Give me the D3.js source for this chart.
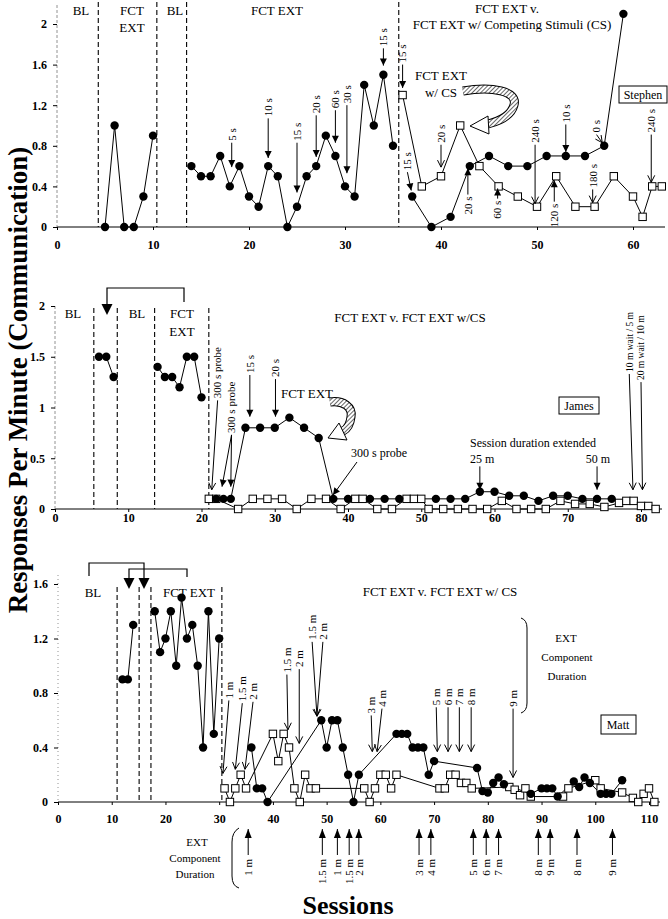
<!DOCTYPE html>
<html><head><meta charset="utf-8">
<script src="https://cdn.jsdelivr.net/npm/d3@7"></script>
<style>
body{margin:0;background:#fff}
svg{display:block}
text{font-family:"Liberation Serif","Times New Roman",serif;fill:#000}
</style>
</head><body>
<svg id="chart" width="668" height="919"></svg>
<script>
// ---------------- DATA ----------------
// Stephen
const stephenXTicks = [0,10,20,30,40,50,60];
const stephenYTicks = [0,0.4,0.8,1.2,1.6,2];
const stephenPhaseLines = [4.3,10.4,13.5,35.6];
const stephenFctExtA = [[5,0],[6,1.0],[7,0],[8,0],[9,0.3],[10,0.9]];
const stephenFctExtB = [[14,0.6],[15,0.5],[16,0.5],[17,0.7],[18,0.4],[19,0.6],[20,0.3],[21,0.2],[22,0.6],[23,0.5],[24,0],[25,0.2],[26,0.5],[27,0.6],[28,0.9],[29,0.7],[30,0.4],[31,0.3],[32,1.4],[33,1.0],[34,1.5],[35,0.8]];
const stephenFctExtC = [[37,0.3],[39,0],[41,0.1],[43,0.6],[45,0.7],[47,0.6],[49,0.6],[51,0.7],[53,0.7],[55,0.7],[57,0.8],[59,2.1]];
const stephenFctExtCS = [[36,1.3],[38,0.4],[40,0.5],[42,1.0],[44,0.6],[46,0.4],[48,0.3],[50,0.2],[52,0.5],[54,0.2],[56,0.2],[58,0.5],[60,0.3],[61,0.1],[62,0.4],[63,0.4]];
// [label, textSession, textBottomValue, tipSession, tipValue, open]
const stephenDownNotes = [["5 s",18.2,0.85,18.2,0.59,0],["10 s",22,1.09,22,0.68,0],["15 s",25,0.85,25,0.34,0],["20 s",27,1.12,27,0.69,0],["60 s",29,1.17,29,0.83,0],["30 s",30.2,1.22,30.2,0.53,0],["15 s",34,1.78,34,1.59,0],["15 s",36,1.62,36,1.37,0],["15 s",36.5,0.56,36.9,0.36,0],["20 s",40,0.83,40,0.59,1],["240 s",49.8,0.83,49.8,0.23,1],["10 s",53,1.03,53,0.74,0],["180 s",55.8,0.39,55.8,0.24,1],["0 s",56.2,0.93,56.8,0.83,1],["240 s",61.9,0.93,61.9,0.44,1]];
// [label, session, textTopValue, tipValue]
const stephenUpNotes = [["20 s",42.8,0.30,0.58],["60 s",45.9,0.26,0.38],["120 s",51.8,0.23,0.46]];

// James
const jamesXTicks = [0,10,20,30,40,50,60,70,80];
const jamesYTicks = [0,0.5,1,1.5,2];
const jamesPhaseLines = [5.3,8.5,13.6,21];
const jamesFctExtA = [[6,1.5],[7,1.5],[8,1.3]];
const jamesFctExtB = [[14,1.4],[15,1.3],[16,1.3],[17,1.2],[18,1.5],[19,1.5],[20,1.1]];
const jamesFctExtC = [[22,0.1],[23,0.1],[24,0.1],[26,0.8],[28,0.8],[30,0.8],[32,0.9],[34,0.8],[36,0.7],[38,0.1],[40,0.1],[43,0.1],[45,0.1],[47,0.1],[52,0.1],[54,0.1],[56,0.1],[58,0.17],[60,0.17],[62,0.13],[64,0.13],[66,0.08],[68,0.13],[70,0.13],[72,0.1],[74,0.1],[76,0.1]];
const jamesFctExtCS = [[21,0.1],[22,0.1],[25,0],[27,0.1],[29,0.1],[31,0.1],[33,0],[35,0.1],[37,0.1],[39,0],[41,0.1],[42,0.1],[44,0],[46,0],[48,0.1],[49,0.1],[50,0.1],[51,0],[53,0],[55,0],[57,0],[59,0],[61,0.08],[63,0],[65,0],[67,0],[69,0.08],[71,0.05],[73,0.05],[75,0.02],[77,0.06],[78,0.08],[79,0.08],[80,0.03],[81,0.03],[82,0]];
const jamesDownNotes = [["300 s probe",22.2,1.09,21.4,0.19,1],["300 s probe",24.1,0.75,22.8,0.22,0],["",24.1,0.75,24,0.22,0],["15 s",26.6,1.34,26.6,0.91,0],["20 s",30.1,1.30,30.1,0.91,0],["10 m wait / 5 m",78.4,1.35,78.9,0.19,1,9.5],["20 m wait / 10 m",80,1.27,80.2,0.19,1,9.5]];
// [session, fromValue, toValue]
const jamesDurationArrows = [[58,0.42,0.19],[74,0.42,0.19]];

// Matt
const mattXTicks = [0,10,20,30,40,50,60,70,80,90,100,110];
const mattYTicks = [0,0.4,0.8,1.2,1.6];
const mattPhaseLines = [11,15.1,17.3,30.5];
const mattBaseline = [[12,0.9],[13,0.9],[14,1.3]];
const mattFctExtA = [[18,1.4],[19,1.1],[20,1.2],[21,1.4],[22,1.0],[23,1.5],[24,1.2],[25,1.3],[26,1.0],[27,0.4],[28,1.4],[29,0.5],[30,1.2]];
const mattFctExtB = [[36,0.4],[37,0.1],[38,0.1],[39,0],[49,0.6],[50,0.4],[51,0.6],[52,0.6],[53,0.4],[54,0.2],[55,0],[56,0.2],[63,0.5],[64,0.5],[65,0.5],[66,0.4],[67,0.4],[68,0.4],[69,0.2],[70,0.3],[78,0.25],[79,0.08],[80,0.07],[81,0.14],[82,0.18],[83,0.13],[88,0.06],[90,0.1],[91,0.1],[92,0.1],[93,0.04],[96,0.15],[97,0.11],[98,0.18],[99,0.14],[101,0.06],[102,0.06],[103,0.06],[105,0.16]];
const mattFctExtCS = [[31,0.1],[32,0],[33,0.1],[34,0.2],[35,0.1],[40,0.5],[41,0.3],[42,0.5],[43,0.4],[44,0.1],[45,0],[46,0.2],[47,0.1],[48,0.1],[57,0.1],[58,0],[59,0.1],[60,0.2],[61,0.2],[62,0.1],[63,0.2],[71,0.1],[72,0.1],[73,0.2],[74,0.2],[75,0.14],[76,0.14],[77,0.1],[84,0.11],[85,0.09],[86,0.05],[87,0.1],[88,0.04],[94,0.04],[95,0.1],[100,0.16],[101,0.1],[105,0.07],[107,0.03],[108,0],[109,0.06],[110,0.1],[111,0]];
const mattDownNotes = [["1 m",31.8,0.76,30.7,0.21,1],["1.5 m",34.3,0.74,33,0.24,1],["2 m",36.3,0.75,34.8,0.24,1],["1.5 m",42.6,0.95,42.8,0.53,1],["2 m",44.9,0.99,44.9,0.43,1],["1.5 m",47.3,1.19,48.2,0.63,1],["2 m",49.3,1.19,48.2,0.63,1],["3 m",58.3,0.65,58.5,0.37,1],["4 m",60.3,0.70,59.4,0.37,1],["5 m",70.4,0.71,70.6,0.37,1],["6 m",72.6,0.71,72.6,0.37,1],["7 m",74.7,0.71,74.7,0.37,1],["8 m",76.9,0.71,76.9,0.37,1],["9 m",84.7,0.70,84.7,0.18,1]];
const mattExtDurations = [[35.4,"1 m"],[49.2,"1.5 m"],[52,"1 m"],[54.2,"1.5 m"],[56,"2 m"],[67.2,"3 m"],[69.4,"4 m"],[77.3,"5 m"],[79.7,"6 m"],[82,"7 m"],[89.4,"8 m"],[91.6,"9 m"],[96.6,"8 m"],[103.2,"9 m"]];

// ---------------- DRAWING ----------------
const SERIF = '"Liberation Serif","Times New Roman",serif';
const svg = d3.select("#chart");
const defs = svg.append("defs");
const pat = defs.append("pattern").attr("id","hatch").attr("patternUnits","userSpaceOnUse")
  .attr("width",3).attr("height",3).attr("patternTransform","rotate(45)");
pat.append("rect").attr("width",3).attr("height",3).attr("fill","#fff");
pat.append("line").attr("x1",0).attr("y1",0).attr("x2",0).attr("y2",3).attr("stroke","#000").attr("stroke-width",1.2);

function arrowHead(g, x1,y1,x2,y2, open, L, W){
  L = L||7; W = W||3.5;
  const a = Math.atan2(y2-y1, x2-x1);
  const bx = x2 - L*Math.cos(a), by = y2 - L*Math.sin(a);
  const p1 = [bx + W*Math.sin(a), by - W*Math.cos(a)], p2 = [bx - W*Math.sin(a), by + W*Math.cos(a)];
  if (open) {
    g.append("polyline").attr("points",[p1,[x2,y2],p2].map(p=>p.join(",")).join(" "))
      .attr("fill","none").attr("stroke","#000").attr("stroke-width",1);
  } else {
    g.append("polygon").attr("points",[p1,[x2,y2],p2].map(p=>p.join(",")).join(" ")).attr("fill","#000");
  }
}
function arrow(g,x1,y1,x2,y2,open,L,W){
  g.append("line").attr("x1",x1).attr("y1",y1).attr("x2",x2).attr("y2",y2).attr("stroke","#000").attr("stroke-width",1);
  arrowHead(g,x1,y1,x2,y2,open,L,W);
}
function vLabel(g,x,y,txt,size,anchor){
  g.append("text").attr("transform",`translate(${x},${y}) rotate(-90)`).attr("dy","0.35em")
   .attr("text-anchor",anchor||"start").attr("font-size",size||11).text(txt);
}
function hText(g,x,y,txt,size,anchor,weight){
  return g.append("text").attr("x",x).attr("y",y).attr("text-anchor",anchor||"middle")
    .attr("font-size",size||12).attr("font-weight",weight||"normal").text(txt);
}
function blockArrow(g,d,tri){
  g.append("path").attr("d",d).attr("fill","none").attr("stroke","#000").attr("stroke-width",9);
  g.append("path").attr("d",d).attr("fill","none").attr("stroke","url(#hatch)").attr("stroke-width",7);
  g.append("polygon").attr("points",tri.map(p=>p.join(",")).join(" ")).attr("fill","#fff").attr("stroke","#000").attr("stroke-width",1);
}

function panel(cfg){
  const g = svg.append("g");
  const x = cfg.x, y = cfg.y;
  const y0 = y(0), x0 = x(0);
  g.selectAll(".ph").data(cfg.phases).enter().append("line")
    .attr("x1",d=>x(d)).attr("x2",d=>x(d)).attr("y1",cfg.phaseTop).attr("y2",y0)
    .attr("stroke","#000").attr("stroke-width",1.1).attr("stroke-dasharray","5,3");
  g.append("line").attr("x1",x0).attr("x2",cfg.xEnd).attr("y1",y0).attr("y2",y0).attr("stroke","#000").attr("stroke-width",1);
  g.append("line").attr("x1",x0).attr("x2",x0).attr("y1",cfg.yTopPx).attr("y2",y0).attr("stroke","#777").attr("stroke-width",0.8).attr("stroke-dasharray",cfg.yDash||null);
  const gx = g.append("g").attr("transform",`translate(0,${y0})`)
    .call(d3.axisBottom(x).tickValues(cfg.xt).tickSize(3).tickSizeOuter(0).tickPadding(cfg.pad).tickFormat(d3.format("d")));
  gx.select(".domain").remove();
  gx.attr("font-family",SERIF).attr("font-size",12).attr("font-weight","bold");
  const gy = g.append("g").attr("transform",`translate(${x0},0)`)
    .call(d3.axisLeft(y).tickValues(cfg.yt).tickSize(4).tickSizeOuter(0).tickPadding(6).tickFormat(d=>String(d)));
  gy.select(".domain").remove();
  gy.attr("font-family",SERIF).attr("font-size",12).attr("font-weight","bold");
  const line = d3.line().x(d=>x(d[0])).y(d=>y(d[1]));
  cfg.lines.forEach(s=>{
    g.append("path").datum(s).attr("d",line).attr("fill","none").attr("stroke","#000").attr("stroke-width",1);
  });
  cfg.squares.forEach(s=>{
    g.selectAll(null).data(s).enter().append("rect")
      .attr("x",d=>x(d[0])-3.7).attr("y",d=>y(d[1])-3.7).attr("width",7.4).attr("height",7.4)
      .attr("fill","#fff").attr("stroke","#000").attr("stroke-width",1);
  });
  cfg.circles.forEach(s=>{
    g.selectAll(null).data(s).enter().append("circle")
      .attr("cx",d=>x(d[0])).attr("cy",d=>y(d[1])).attr("r",4.2).attr("fill","#000");
  });
  (cfg.down||[]).forEach(n=>{
    const tx = x(n[1]), ty = y(n[2]);
    if (n[0]) vLabel(g, tx, ty, n[0], n[6]||cfg.noteSize);
    arrow(g, tx, ty+2, x(n[3]), y(n[4]), n[5]);
  });
  (cfg.up||[]).forEach(n=>{
    const tx = x(n[1]), ty = y(n[2]);
    vLabel(g, tx, ty, n[0], 11, "end");
    arrow(g, tx, ty-2, tx, y(n[3]), 0);
  });
  return g;
}

// Stephen panel
const xS = d3.scaleLinear().domain([0,60]).range([57,633]);
const yS = d3.scaleLinear().domain([0,2]).range([227,24]);
const gS = panel({x:xS,y:yS,xt:stephenXTicks,yt:stephenYTicks,phases:stephenPhaseLines,phaseTop:2,xEnd:665,yTopPx:5,pad:10.5,yDash:"3,2",
  lines:[stephenFctExtA,stephenFctExtB,stephenFctExtC,stephenFctExtCS],
  circles:[stephenFctExtA,stephenFctExtB,stephenFctExtC],squares:[stephenFctExtCS],
  down:stephenDownNotes, up:stephenUpNotes, noteSize:11});
hText(gS,81,15,"BL",13); hText(gS,132,15,"FCT",13); hText(gS,132,32,"EXT",13); hText(gS,175,15,"BL",13);
hText(gS,277,15,"FCT EXT",13);
hText(gS,507,13,"FCT EXT v.",13);
hText(gS,512,29,"FCT EXT w/ Competing Stimuli (CS)",13);
hText(gS,441,80,"FCT EXT",13); hText(gS,441,97,"w/ CS",13);
blockArrow(gS,"M463 91 C 492 86, 518 91, 514 105 C 511 116, 500 121, 488 124",[[470,126],[488,116],[489,134]]);
gS.append("rect").attr("x",619).attr("y",86).attr("width",48).attr("height",17).attr("fill","#fff").attr("stroke","#000");
hText(gS,643,99,"Stephen",12);

// James panel
const xJ = d3.scaleLinear().domain([0,80]).range([55,641]);
const yJ = d3.scaleLinear().domain([0,2]).range([509,306]);
const gJ = panel({x:xJ,y:yJ,xt:jamesXTicks,yt:jamesYTicks,phases:jamesPhaseLines,phaseTop:308,xEnd:662,yTopPx:306,pad:1.5,yDash:"3,2",
  lines:[jamesFctExtA,jamesFctExtB,jamesFctExtC,jamesFctExtCS],
  circles:[jamesFctExtA,jamesFctExtB,jamesFctExtC],squares:[jamesFctExtCS],
  down:jamesDownNotes, noteSize:11});
hText(gJ,73,318,"BL",13); hText(gJ,137,318,"BL",13); hText(gJ,182,318,"FCT",13); hText(gJ,182,336,"EXT",13);
gJ.append("path").attr("d","M184 302 V288 H107 V304").attr("fill","none").attr("stroke","#000").attr("stroke-width",1.2);
arrowHead(gJ,107,300,107,315,0,11,5.5);
hText(gJ,410,322,"FCT EXT v. FCT EXT w/CS",13);
hText(gJ,307,398,"FCT EXT",13);
blockArrow(gJ,"M330 402 C 343 400, 353 407, 351 417 C 350 425, 347 429, 343 431",[[328,438],[339,423],[347,440]]);
hText(gJ,379,457,"300 s probe",12);
arrow(gJ,357,462,333,495,0);
hText(gJ,470,447,"Session duration extended",12,"start");
hText(gJ,470,463,"25 m",12,"start");
hText(gJ,610,463,"50 m",12,"end");
jamesDurationArrows.forEach(a=>arrow(gJ,xJ(a[0]),yJ(a[1]),xJ(a[0]),yJ(a[2]),0));
gJ.append("rect").attr("x",559).attr("y",397).attr("width",40).attr("height",17).attr("fill","#fff").attr("stroke","#000");
hText(gJ,579,410,"James",12);

// Matt panel
const xM = d3.scaleLinear().domain([0,110]).range([58,649]);
const yM = d3.scaleLinear().domain([0,1.6]).range([802,584]);
const gM = panel({x:xM,y:yM,xt:mattXTicks,yt:mattYTicks,phases:mattPhaseLines,phaseTop:587,xEnd:660,yTopPx:575,pad:9.5,yDash:"1,3",
  lines:[mattBaseline,mattFctExtA,mattFctExtB,mattFctExtCS],
  circles:[mattBaseline,mattFctExtA,mattFctExtB],squares:[mattFctExtCS],
  down:mattDownNotes, noteSize:11});
hText(gM,93,597,"BL",13); hText(gM,189,597,"FCT EXT",13);
hText(gM,440,596,"FCT EXT v. FCT EXT w/ CS",13);
gM.append("path").attr("d","M89 576 V563 H144 V578").attr("fill","none").attr("stroke","#000").attr("stroke-width",1.2);
arrowHead(gM,144,576,144,589,0,11,5.5);
gM.append("path").attr("d","M187 577 V569 H129 V578").attr("fill","none").attr("stroke","#000").attr("stroke-width",1.2);
arrowHead(gM,129,576,129,589,0,11,5.5);
gM.append("path").attr("d","M521 618 Q527 620 527 628 L527 703 Q527 711 521 713").attr("fill","none").attr("stroke","#000").attr("stroke-width",1);
hText(gM,566,642,"EXT",11); hText(gM,567,661,"Component",11); hText(gM,567,680,"Duration",11);
gM.append("rect").attr("x",601).attr("y",715).attr("width",35).attr("height",19).attr("fill","#fff").attr("stroke","#000");
hText(gM,618,729,"Matt",12);

// EXT component duration arrows below axis
const gB = svg.append("g");
hText(gB,197,846,"EXT",11); hText(gB,195,862,"Component",11); hText(gB,195,878,"Duration",11);
gB.append("path").attr("d","M239 828 Q232 832 232 842 L232 876 Q232 886 239 888").attr("fill","none").attr("stroke","#000").attr("stroke-width",1);
gB.selectAll(null).data(mattExtDurations).enter().each(function(d){
  const xx = xM(d[0]);
  arrow(gB,xx,855,xx,829,0,9,3.5);
  vLabel(gB,xx,859,d[1],11,"end");
});

// axis titles
svg.append("text").attr("transform","translate(27,380) rotate(-90)").attr("text-anchor","middle")
  .attr("font-size",27).attr("font-weight","bold").text("Responses Per Minute (Communication)");
svg.append("text").attr("x",348).attr("y",914).attr("text-anchor","middle")
  .attr("font-size",26).attr("font-weight","bold").text("Sessions");
</script>
</body></html>
